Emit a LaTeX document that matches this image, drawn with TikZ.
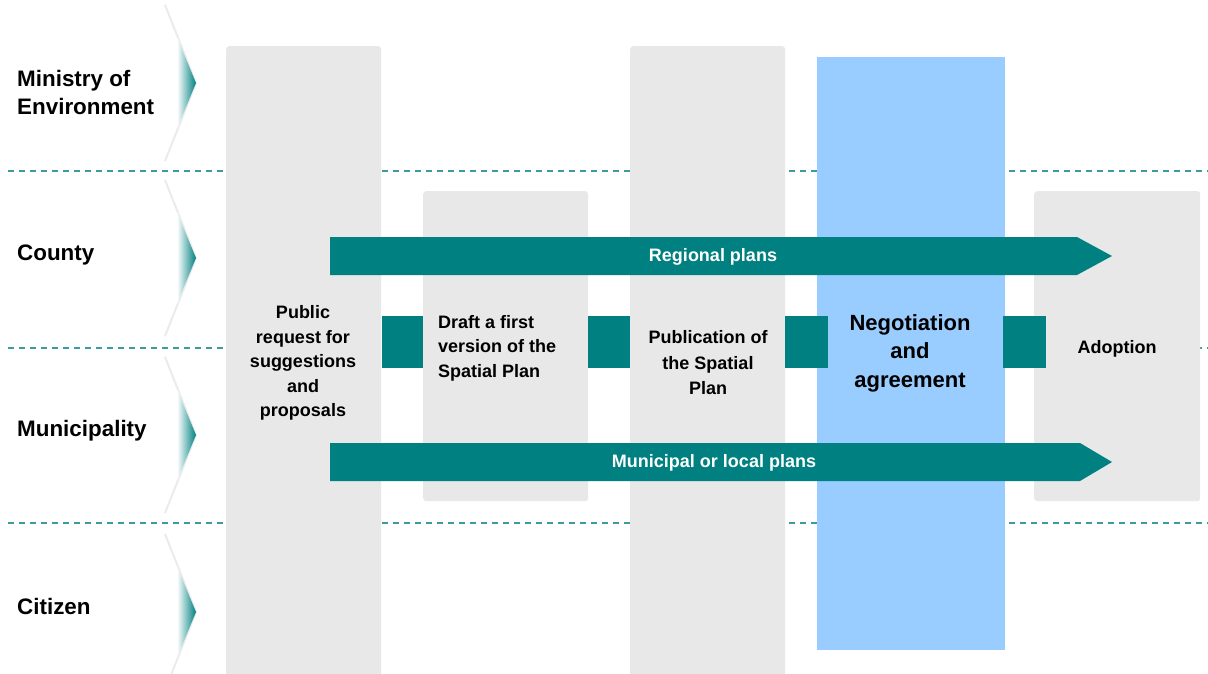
\documentclass[tikz,border=0pt]{standalone}
\usepackage{fontspec}
\setmainfont{Liberation Sans}
\definecolor{tealc}{HTML}{008080}
\definecolor{dashc}{HTML}{3C9C9C}
\definecolor{colgray}{HTML}{E8E8E8}
\definecolor{blueb}{HTML}{99CCFF}
\tikzset{
  lanedash/.style={dashc, line width=1.3pt, dash pattern=on 6pt off 5pt},
  colbox/.style={fill=colgray, draw=none, rounded corners=3pt, anchor=north west, inner sep=0pt},
  bluebox/.style={fill=blueb, draw=none, anchor=north west, inner sep=0pt},
  linkbox/.style={fill=tealc, draw=none, anchor=north west, inner sep=0pt},
  lanelabel/.style={anchor=west, align=left, font=\fontsize{22.4}{28}\selectfont\bfseries, inner sep=0pt},
  steptext/.style={align=center, font=\fontsize{18}{24.5}\selectfont\bfseries, inner sep=0pt},
  arrowtext/.style={text=white, font=\fontsize{18}{22}\selectfont\bfseries, inner sep=0pt},
  chevedge/.style={black!8, line width=2pt},
}
\begin{document}
\begin{tikzpicture}[x=1pt,y=-1pt]
\useasboundingbox (0,0) rectangle (1208,673);
% lane separators
\draw[lanedash] (8,171) -- (1208,171);
\draw[lanedash] (8,348) -- (1208,348);
\draw[lanedash] (8,523) -- (1208,523);
% lane header chevrons
\foreach \yc in {83,258,435,612}{
  \draw[chevedge] (165,\yc-78) -- (196,\yc) -- (165,\yc+78);
  \shade[left color=white, right color=tealc] (177,\yc-46) -- (196,\yc) -- (177,\yc+46) -- cycle;
}
% lane labels
\node[lanelabel] (ministry) at (17,92) {Ministry of\\Environment};
\node[lanelabel] (county) at (17,255) {County};
\node[lanelabel] (municipality) at (17,431) {Municipality};
\node[lanelabel] (citizen) at (17,606) {Citizen};
% columns
\node[colbox, minimum width=155pt, minimum height=630pt] (c1) at (226,46) {};
\node[colbox, minimum width=165pt, minimum height=310pt] (c2) at (423,191) {};
\node[colbox, minimum width=155pt, minimum height=630pt] (c3) at (630,46) {};
\node[bluebox, minimum width=188pt, minimum height=593pt] (c4) at (817,57) {};
\node[colbox, minimum width=166pt, minimum height=310pt] (c5) at (1034,191) {};
% link squares
\node[linkbox, minimum width=41pt, minimum height=52pt] (s1) at (382,316) {};
\node[linkbox, minimum width=42pt, minimum height=52pt] (s2) at (588,316) {};
\node[linkbox, minimum width=43pt, minimum height=52pt] (s3) at (785,316) {};
\node[linkbox, minimum width=43pt, minimum height=52pt] (s4) at (1003,316) {};
% big arrows
\fill[tealc] (330,237) -- (1077,237) -- (1112,256) -- (1077,275) -- (330,275) -- cycle;
\node[arrowtext] (regional) at (713,257) {Regional plans};
\fill[tealc] (330,443) -- (1080,443) -- (1112,462) -- (1080,481) -- (330,481) -- cycle;
\node[arrowtext] (municipal) at (714,463) {Municipal or local plans};
% step texts
\node[steptext] (t1) at (303,363) {Public\\request for\\suggestions\\and\\proposals};
\node[steptext, align=left, anchor=west] (t2) at (438,348) {Draft a first\\version of the\\Spatial Plan};
\node[steptext, font=\fontsize{18}{25.5}\selectfont\bfseries] (t3) at (708,363) {Publication of\\the Spatial\\Plan};
\node[steptext, font=\fontsize{22}{28.5}\selectfont\bfseries] (t4) at (910,353) {Negotiation\\and\\agreement};
\node[steptext] (t5) at (1117,349) {Adoption};
\end{tikzpicture}
\end{document}
